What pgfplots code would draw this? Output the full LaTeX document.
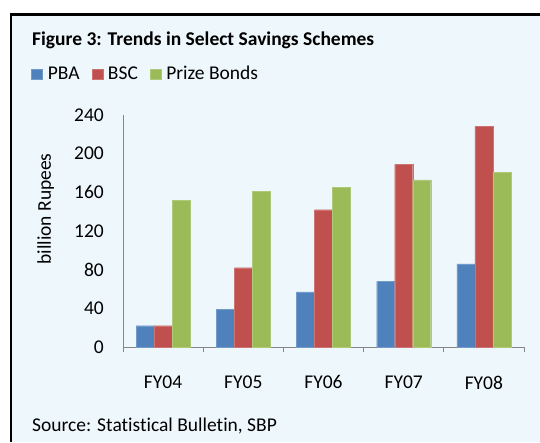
\documentclass[border=0pt]{standalone}
\usepackage{fontspec}
\setmainfont{Carlito}[Ligatures=NoCommon]
\usepackage{pgfplots}
\pgfplotsset{compat=1.18}
\definecolor{bg}{RGB}{238,248,252}
\definecolor{pba}{RGB}{79,129,189}
\definecolor{bsc}{RGB}{192,80,77}
\definecolor{prz}{RGB}{155,187,89}
\definecolor{axgray}{RGB}{134,134,134}
\pgfplotsset{sqlegend/.style={legend image code/.code={\fill[##1] (0pt,-5pt) rectangle (11pt,5pt);}}}
\newcommand\fs{\fontsize{19.5}{23}\selectfont}
\begin{document}
\begin{tikzpicture}
\useasboundingbox (0pt,0pt) rectangle (540pt,442pt);
\fill[white] (0pt,0pt) rectangle (540pt,442pt);
\fill[bg] (11pt,0pt) rectangle (540pt,428pt);
\draw[black, line width=2.3pt] (11.2pt,0pt) -- (11.2pt,427.5pt) -- (540pt,427.5pt);
\begin{axis}[
  at={(123pt,95pt)}, anchor=south west,
  scale only axis, width=401pt, height=232pt,
  ymin=0, ymax=240, xmin=-0.5, xmax=4.5,
  ybar=0pt, bar width=18pt,
  axis x line=bottom, axis y line=left,
  axis line style={axgray, line width=1pt, -},
  ytick={0,40,...,240}, major tick length=0pt,
  xtick={0,...,4}, xticklabels={FY04,FY05,FY06,FY07,FY08},
  minor xtick={-0.5,0.5,1.5,2.5,3.5,4.5}, minor tick length=5pt, tick align=outside,
  minor tick style={axgray, line width=1pt},
  /pgf/number format/assume math mode=true,
  ticklabel style={font=\fs},
  yticklabel style={anchor=east, inner sep=0pt, xshift=-19pt},
  xticklabel style={anchor=north, inner sep=0pt, yshift=-28.5pt},
  ylabel={billion Rupees},
  ylabel style={font=\fs, at={(axis description cs:-0.193,0.595)}, anchor=center, rotate=0},
  legend columns=3,
  legend style={at={(axis description cs:-0.229,1.177)}, anchor=west, draw=none, fill=none, inner sep=0pt, font=\fs,
    nodes={inner sep=0pt, anchor=west},
    /tikz/every odd column/.append style={column sep=5pt},
    /tikz/every even column/.append style={column sep=12pt}},
]
\addplot[fill=pba, draw=pba!80!white, line width=0.4pt, sqlegend] coordinates {(0,22) (1,39) (2,57) (3,68) (4,86)};
\addplot[fill=bsc, draw=bsc!80!white, line width=0.4pt, sqlegend] coordinates {(0,22) (1,82) (2,142) (3,189) (4,228)};
\addplot[fill=prz, draw=prz!80!white, line width=0.4pt, sqlegend] coordinates {(0,152) (1,161) (2,165) (3,173) (4,181)};
\legend{PBA,BSC,Prize Bonds}
\end{axis}
\node[anchor=west, inner sep=0pt, font=\fs\bfseries] at (32pt,402pt) {Figure 3: Trends in Select Savings Schemes};
\node[anchor=west, inner sep=0pt, font=\fs] at (32pt,16pt) {Source: Statistical Bulletin, SBP};
\end{tikzpicture}
\end{document}
